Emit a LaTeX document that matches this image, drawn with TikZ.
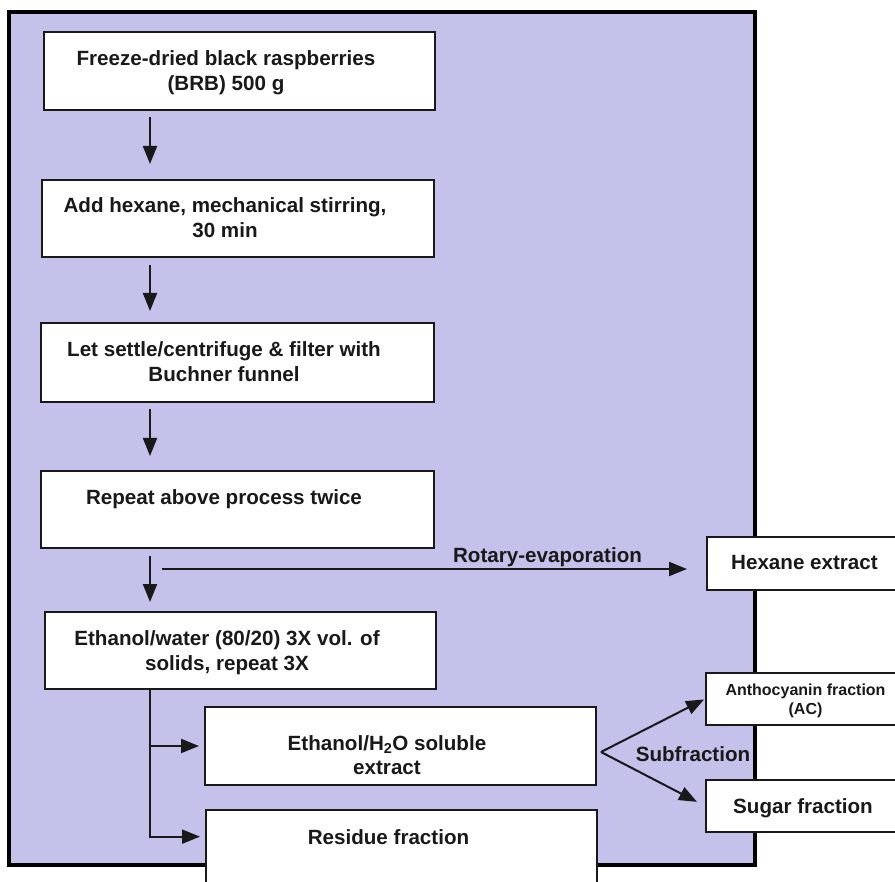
\documentclass[tikz,border=0pt]{standalone}
\usepackage{fontspec}
\setmainfont{Liberation Sans}
\usetikzlibrary{arrows.meta}
\definecolor{panel}{RGB}{196,193,234}
\definecolor{ink}{RGB}{25,25,25}
\tikzset{
  box/.style={draw=ink, line width=2pt, fill=white, rectangle, inner sep=0pt},
  txt/.style={text=ink, font=\fontsize{20.6}{24.7}\selectfont\bfseries, align=center, inner sep=0pt},
  smalltxt/.style={text=ink, font=\fontsize{16}{19}\selectfont\bfseries, align=center, inner sep=0pt},
  arr/.style={draw=ink, line width=2pt, -{Triangle[length=18pt,width=14pt]}},
}
\begin{document}
\begin{tikzpicture}[x=1pt,y=-1pt]
\clip (0,0) rectangle (895,882);
\fill[white] (0,0) rectangle (895,882);
% panel
\draw[line width=4pt, draw=black, fill=panel] (9,12) rectangle (755,865);
\coordinate (ax) at (150,0);
% left column boxes
\node[box, minimum width=391pt, minimum height=78pt] (b1) at (239.5,71) {};
\node[txt] (t1) at (226,72.5) {Freeze-dried black raspberries\\(BRB) 500 g};
\node[box, minimum width=392pt, minimum height=77pt] (b2) at (238,218.5) {};
\node[txt] (t2) at (225,217.8) {Add hexane, mechanical stirring,\\30 min};
\node[box, minimum width=393pt, minimum height=79pt] (b3) at (237.5,362.5) {};
\node[txt] (t3) at (224,361.3) {Let settle/centrifuge \& filter with\\Buchner funnel};
\node[box, minimum width=393pt, minimum height=77pt] (b4) at (237.5,509.5) {};
\node[txt, anchor=base] (t4) at (224,505) {Repeat above process twice};
\node[box, minimum width=391pt, minimum height=77pt] (b5) at (240.5,650.5) {};
\node[txt] (t5) at (227,653) {Ethanol/water (80/20) 3X vol. of\\solids, repeat 3X};
% lower boxes
\node[box, minimum width=391pt, minimum height=78pt] (eth) at (400.5,746) {};
\node[txt] (teth) at (387,755) {Ethanol/H\textsubscript{2}O soluble\\extract};
\node[box, minimum width=391pt, minimum height=90pt] (res) at (401.5,855) {};
\node[txt, anchor=base] (tres) at (388.5,844) {Residue fraction};
% right boxes
\node[box, minimum width=198pt, minimum height=53pt] (hex) at (806,563.5) {};
\node[txt, anchor=base] (thex) at (804.5,569) {Hexane extract};
\node[box, minimum width=199pt, minimum height=52pt] (anth) at (805.5,699) {};
\node[smalltxt] (tanth) at (805.5,700.4) {Anthocyanin fraction\\(AC)};
\node[box, minimum width=199pt, minimum height=52pt] (sugar) at (805.5,806) {};
\node[txt, anchor=base] (tsugar) at (803,813) {Sugar fraction};
% main arrows
\draw[arr, shorten <=6pt, shorten >=15pt] (b1.south -| ax) -- (b2.north -| ax);
\draw[arr, shorten <=7pt, shorten >=11pt] (b2.south -| ax) -- (b3.north -| ax);
\draw[arr, shorten <=6pt, shorten >=14pt] (b3.south -| ax) -- (b4.north -| ax);
\draw[arr, shorten <=7pt, shorten >=9pt] (b4.south -| ax) -- (b5.north -| ax);
% rotary evaporation
\coordinate (rs) at (162,569);
\draw[arr, shorten >=19pt] (rs) -- (rs -| hex.west);
\node[txt, anchor=base] (trot) at (547.5,562) {Rotary-evaporation};
% branch
\draw[arr, shorten >=5pt] (b5.south -| ax) |- (eth.west);
\draw[arr, shorten >=5pt] (b5.south -| ax) |- (tres -| res.west);
% subfraction
\coordinate (sub) at (601,752);
\draw[arr, shorten >=1pt] (sub) -- (anth.west);
\draw[arr, shorten >=9pt] (sub) -- (sugar.west);
\node[txt, anchor=base] (tsub) at (693,761) {Subfraction};
\end{tikzpicture}
\end{document}
